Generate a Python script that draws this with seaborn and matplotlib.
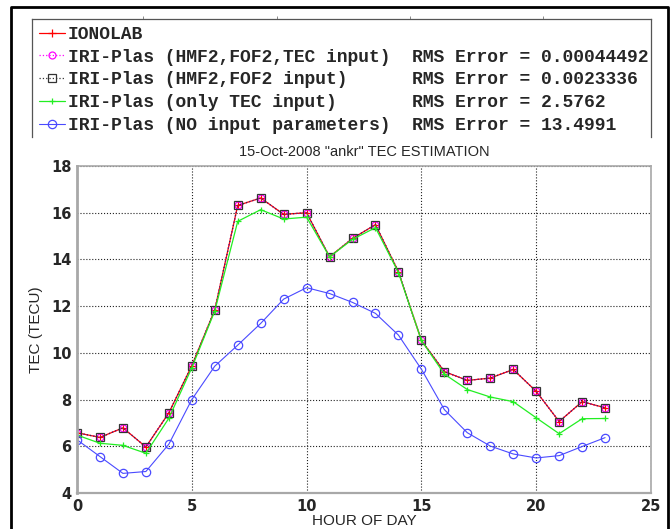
import numpy as np
import pandas as pd
import seaborn as sns
import matplotlib.pyplot as plt
from matplotlib.lines import Line2D

# data
hours = list(range(24))
ionolab = [6.58, 6.38, 6.79, 5.97, 7.43, 9.45, 11.84, 16.31, 16.63, 15.93, 16.00, 14.11,
           14.90, 15.49, 13.47, 10.53, 9.20, 8.82, 8.92, 9.29, 8.35, 7.06, 7.91, 7.65]
iri_hmf2_fof2_tec = [6.58, 6.38, 6.79, 5.97, 7.43, 9.45, 11.84, 16.31, 16.63, 15.93, 16.00, 14.11,
                     14.90, 15.49, 13.47, 10.53, 9.20, 8.82, 8.92, 9.29, 8.35, 7.06, 7.91, 7.65]
iri_hmf2_fof2 = [6.58, 6.38, 6.79, 5.97, 7.43, 9.45, 11.84, 16.31, 16.63, 15.93, 16.00, 14.11,
                 14.90, 15.49, 13.47, 10.53, 9.20, 8.82, 8.92, 9.29, 8.35, 7.06, 7.91, 7.65]
iri_tec_only = [6.48, 6.13, 6.04, 5.70, 7.20, 9.36, 11.79, 15.63, 16.13, 15.73, 15.81, 14.11,
                14.86, 15.36, 13.44, 10.53, 9.09, 8.43, 8.11, 7.91, 7.22, 6.54, 7.18, 7.19]
iri_no_input = [6.28, 5.56, 4.84, 4.92, 6.09, 8.00, 9.43, 10.33, 11.26, 12.30, 12.79, 12.54,
                12.16, 11.69, 10.76, 9.30, 7.57, 6.58, 6.01, 5.67, 5.50, 5.60, 5.99, 6.37]

labels = [
    "IONOLAB",
    "IRI-Plas (HMF2,FOF2,TEC input)  RMS Error = 0.00044492",
    "IRI-Plas (HMF2,FOF2 input)      RMS Error = 0.0023336",
    "IRI-Plas (only TEC input)       RMS Error = 2.5762",
    "IRI-Plas (NO input parameters)  RMS Error = 13.4991",
]
x_ticks = [0, 5, 10, 15, 20, 25]
y_ticks = [4, 6, 8, 10, 12, 14, 16, 18]

sns.set_theme(style="white")
plt.rcParams['font.family'] = ['Liberation Sans', 'DejaVu Sans']

fig = plt.figure(figsize=(6.72, 5.29), dpi=100)
ax = fig.add_axes([77/672, 36/529, 574/672, 327/529])

styles = [
    dict(color="red", marker="+", ls="-", ms=6, mfc="red", lw=0.9),
    dict(color="magenta", marker="o", ls=":", ms=5, mfc="none", lw=0.9),
    dict(color="#333333", marker="s", ls=":", ms=6, mfc="none", lw=0.9),
    dict(color="#22ee22", marker="+", ls="-", ms=5, mfc="#22ee22", lw=0.9),
    dict(color="#4a4aff", marker="o", ls="-", ms=6, mfc="none", lw=0.8),
]
all_series = [ionolab, iri_hmf2_fof2_tec, iri_hmf2_fof2, iri_tec_only, iri_no_input]
for vals, st, lab in zip(all_series, styles, labels):
    sns.lineplot(x=hours, y=vals, ax=ax, label=lab, color=st["color"])
    ln = ax.lines[-1]
    ln.set_linestyle(st["ls"])
    ln.set_linewidth(st["lw"])
    ln.set_marker(st["marker"])
    ln.set_markersize(st["ms"])
    ln.set_markerfacecolor(st["mfc"])
    ln.set_markeredgecolor(st["color"])
    ln.set_markeredgewidth(0.9)

ax.get_legend().remove()
handles = ax.lines[:5]

ax.set_xlim(0, 25)
ax.set_ylim(4, 18)
ax.set_xticks(x_ticks)
ax.set_yticks(y_ticks)
ax.grid(True, color="#222222", linestyle=":", linewidth=0.8)
for s in ax.spines.values():
    s.set_color("#a8a8a8")
    s.set_linewidth(1.2)
ax.spines["left"].set_linewidth(2)
ax.spines["bottom"].set_linewidth(1.6)
ax.tick_params(length=0, pad=4, labelsize=10.5)
for t in ax.get_xticklabels() + ax.get_yticklabels():
    t.set_fontfamily("DejaVu Sans")
    t.set_fontweight("bold")
ax.set_title('15-Oct-2008 "ankr" TEC ESTIMATION', fontsize=10.5, pad=7)
ax.set_xlabel("HOUR OF DAY", fontsize=11, labelpad=0)
ax.set_ylabel("TEC (TECU)", fontsize=11, labelpad=6)

# legend box on top, open at the bottom (faint ticks of a hidden axis on its top edge)
lax = fig.add_axes([32/672, 392/529, 619/672, 118/529])
lax.set_xlim(0, 1)
lax.set_xticks([0.18, 0.395, 0.61, 0.825])
lax.set_yticks([])
lax.xaxis.tick_top()
lax.tick_params(axis="x", direction="out", length=2, width=0.6, colors="#777777",
                labeltop=False, labelbottom=False)
lax.patch.set_alpha(0)
for name, s in lax.spines.items():
    s.set_color("#555555")
    s.set_linewidth(0.9)
lax.spines["bottom"].set_visible(False)
lax.legend(handles, labels, loc="upper left", frameon=False, borderaxespad=0.0,
           borderpad=0.38, handlelength=1.45, handletextpad=0.15, labelspacing=0.32,
           prop={"family": "Liberation Mono", "weight": "bold", "size": 13})

# outer frame (no bottom edge)
fx = [11/672, 11/672, 668/672, 668/672]
fy = [0, 1 - 7/529, 1 - 7/529, 0]
fig.add_artist(Line2D(fx, fy, color="black", linewidth=2, transform=fig.transFigure))

fig.savefig("out.png", dpi=100)
